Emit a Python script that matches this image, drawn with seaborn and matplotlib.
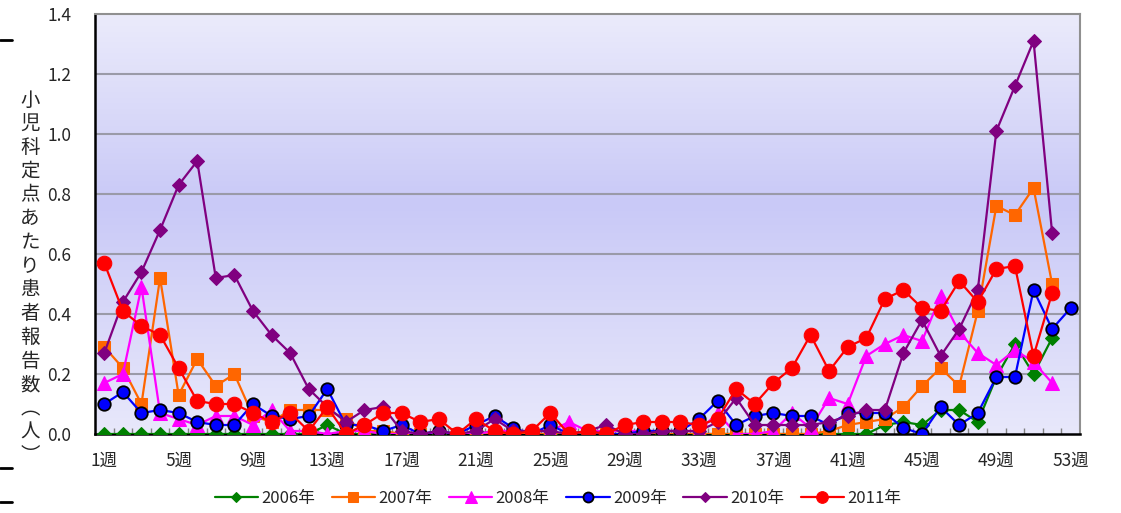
import numpy as np
import pandas as pd
import matplotlib
matplotlib.use("Agg")
import matplotlib.pyplot as plt
from matplotlib.colors import LinearSegmentedColormap
from matplotlib.lines import Line2D
import seaborn as sns

sns.set_theme(style="white")
plt.rcParams['font.family'] = ['Noto Sans CJK JP', 'DejaVu Sans']

# ---- data ----
y2006 = [0, 0, 0, 0, 0, 0, 0, 0, 0, 0, 0, 0, 0.03, 0, 0, 0, 0, 0, 0, 0,
         0, 0.01, 0, 0, 0, 0, 0, 0, 0, 0, 0, 0, 0, 0, 0, 0, 0, 0, 0, 0,
         0, 0, 0.03, 0.04, 0.03, 0.08, 0.08, 0.04, 0.19, 0.30, 0.20, 0.32]
y2007 = [0.29, 0.22, 0.10, 0.52, 0.13, 0.25, 0.16, 0.20, 0.06, 0.04, 0.08, 0.08, 0.08, 0.05, 0.01, 0.01, 0, 0, 0, 0,
         0, 0, 0, 0, 0, 0, 0, 0, 0, 0, 0, 0, 0, 0, 0, 0, 0, 0, 0, 0.01,
         0.03, 0.04, 0.05, 0.09, 0.16, 0.22, 0.16, 0.41, 0.76, 0.73, 0.82, 0.50]
y2008 = [0.17, 0.20, 0.49, 0.07, 0.05, 0.03, 0.06, 0.06, 0.03, 0.08, 0.01, 0.01, 0, 0.01, 0.01, 0, 0, 0, 0, 0,
         0, 0.01, 0.01, 0.01, 0.01, 0.04, 0.01, 0.01, 0.01, 0.01, 0.01, 0.01, 0.01, 0.07, 0, 0, 0.01, 0.07, 0.02, 0.12,
         0.10, 0.26, 0.30, 0.33, 0.31, 0.46, 0.34, 0.27, 0.23, 0.28, 0.24, 0.17]
y2009 = [0.10, 0.14, 0.07, 0.08, 0.07, 0.04, 0.03, 0.03, 0.10, 0.06, 0.05, 0.06, 0.15, 0.03, 0.03, 0.01, 0.03, 0, 0.01, 0,
         0.03, 0.06, 0.02, 0, 0.03, 0, 0.01, 0, 0, 0.01, 0.01, 0.01, 0.05, 0.11, 0.03, 0.06, 0.07, 0.06, 0.06, 0.03,
         0.07, 0.07, 0.07, 0.02, 0, 0.09, 0.03, 0.07, 0.19, 0.19, 0.48, 0.35, 0.42]
y2010 = [0.27, 0.44, 0.54, 0.68, 0.83, 0.91, 0.52, 0.53, 0.41, 0.33, 0.27, 0.15, 0.09, 0.04, 0.08, 0.09, 0.01, 0, 0.01, 0,
         0.01, 0.05, 0.01, 0.01, 0.01, 0, 0.01, 0.03, 0, 0, 0.01, 0.01, 0.01, 0.04, 0.12, 0.03, 0.03, 0.03, 0.03, 0.04,
         0.06, 0.08, 0.08, 0.27, 0.38, 0.26, 0.35, 0.48, 1.01, 1.16, 1.31, 0.67]
y2011 = [0.57, 0.41, 0.36, 0.33, 0.22, 0.11, 0.10, 0.10, 0.07, 0.04, 0.07, 0.01, 0.09, 0, 0.03, 0.07, 0.07, 0.04, 0.05, 0,
         0.05, 0.01, 0, 0.01, 0.07, 0, 0.01, 0, 0.03, 0.04, 0.04, 0.04, 0.03, 0.05, 0.15, 0.10, 0.17, 0.22, 0.33, 0.21,
         0.29, 0.32, 0.45, 0.48, 0.42, 0.41, 0.51, 0.44, 0.55, 0.56, 0.26, 0.47]

series_names = ['2006年', '2007年', '2008年', '2009年', '2010年', '2011年']
series_values = [y2006, y2007, y2008, y2009, y2010, y2011]
tick_weeks = list(range(1, 54, 4))
tick_labels = [f'{w}週' for w in tick_weeks]
y_ticks = [0.0, 0.2, 0.4, 0.6, 0.8, 1.0, 1.2, 1.4]
y_label = '小児科定点あたり患者報告数︵人︶'

styles = {
    '2006年': dict(color='#008000', marker='D', markersize=7, markeredgecolor='#008000'),
    '2007年': dict(color='#ff6600', marker='s', markersize=8.5, markeredgecolor='#ff6600'),
    '2008年': dict(color='#ff00ff', marker='^', markersize=10, markeredgecolor='#ff00ff'),
    '2009年': dict(color='#0000ff', marker='o', markersize=9, markeredgecolor='black', markeredgewidth=1.3),
    '2010年': dict(color='#800080', marker='D', markersize=7, markeredgecolor='#800080'),
    '2011年': dict(color='#ff0000', marker='o', markersize=10.5, markeredgecolor='#ff0000'),
}

frames = []
for name, vals in zip(series_names, series_values):
    frames.append(pd.DataFrame({'week': np.arange(1, len(vals) + 1), 'value': vals, 'year': name}))
df = pd.concat(frames, ignore_index=True)

fig = plt.figure(figsize=(11.21, 5.13), dpi=100)
ax = fig.add_axes([95 / 1121, 1 - 434 / 513, (1080 - 95) / 1121, (434 - 14) / 513])

# background gradient
cmap = LinearSegmentedColormap.from_list('bg', [(0, '#ebebfb'), (0.45, '#c9c9f7'), (1.0, '#e8e8fb')])
grad = np.linspace(0, 1, 256).reshape(-1, 1)
ax.imshow(grad, extent=(0.5, 53.5, 0, 1.4), aspect='auto', cmap=cmap, origin='upper', zorder=0)

for y in y_ticks[1:-1]:
    ax.axhline(y, color='#9a9aa8', linewidth=1.5, zorder=1)

for name in series_names:
    sub = df[df['year'] == name]
    sns.lineplot(data=sub, x='week', y='value', ax=ax, linewidth=1.6, label=name, zorder=3,
                 **styles[name])

ax.set_xlim(0.5, 53.5)
ax.set_ylim(0, 1.4)
ax.set_xticks(tick_weeks)
ax.set_xticklabels(tick_labels, fontsize=12.5)
ax.set_xticks(np.arange(1.5, 53.5, 1), minor=True)
ax.tick_params(axis='x', which='major', length=0, pad=13)
ax.tick_params(axis='x', which='minor', direction='in', length=4, color='#808080', bottom=True)
ax.set_yticks(y_ticks)
ax.set_yticklabels([f'{v:.1f}' for v in y_ticks], fontsize=12.5)
ax.tick_params(axis='y', length=0, pad=17)
ax.set_xlabel('')
ax.set_ylabel('')

for s in ['left', 'bottom']:
    ax.spines[s].set_color('black')
    ax.spines[s].set_linewidth(1.8)
for s in ['top', 'right']:
    ax.spines[s].set_color('#909090')
    ax.spines[s].set_linewidth(1.5)

fig.text(30 / 1121, 1 - 278 / 513, '\n'.join(y_label), ha='center', va='center',
         fontsize=14, linespacing=1.17)

handles, labels = ax.get_legend_handles_labels()
ax.legend(handles, labels, loc='center', bbox_to_anchor=(558 / 1121, 1 - 498 / 513),
          bbox_transform=fig.transFigure, ncol=6, frameon=False, fontsize=12,
          handlelength=2.6, handletextpad=0.2, columnspacing=1.0, markerscale=0.8)

for yy in [40, 468, 502]:
    fig.add_artist(Line2D([0, 12 / 1121], [1 - yy / 513, 1 - yy / 513], color='black', linewidth=2,
                          transform=fig.transFigure))

fig.savefig('out.png', dpi=100)
